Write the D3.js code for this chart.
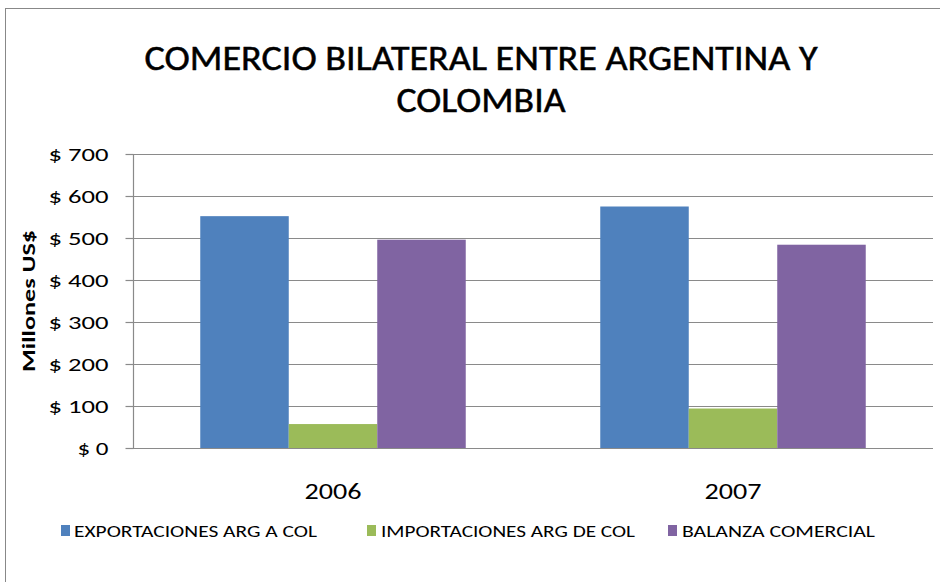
<!DOCTYPE html>
<html>
<head>
<meta charset="utf-8">
<script src="https://cdn.jsdelivr.net/npm/d3@7"></script>
<style>
  html, body { margin: 0; padding: 0; background: #fff; }
  svg { display: block; }
  text { font-family: Carlito, Lato, "Open Sans", sans-serif; fill: #000; }
</style>
</head>
<body>
<svg id="chart" width="940" height="582"></svg>
<script>
// ---- data ----
const categories = ["2006", "2007"];
const seriesNames = ["EXPORTACIONES ARG A COL", "IMPORTACIONES ARG DE COL", "BALANZA COMERCIAL"];
const exportaciones = [552, 575];
const importaciones = [57, 94];
const balanza = [496, 484];
const yTicks = [0, 100, 200, 300, 400, 500, 600, 700];
const titleLines = ["COMERCIO BILATERAL ENTRE ARGENTINA Y", "COLOMBIA"];
const yTitle = "Millones US$";

const colors = ["#4f81bd", "#9bbb59", "#8064a2"];
const seriesValues = [exportaciones, importaciones, balanza];

const svg = d3.select("#chart");
const W = 940, H = 582;

// outer chart border
svg.append("rect").attr("x", 5.5).attr("y", 8.5).attr("width", W + 10).attr("height", H + 10)
  .attr("fill", "#fff").attr("stroke", "#888").attr("stroke-width", 1);

const plot = { left: 133, right: 933, top: 154, bottom: 448 };

const x0 = d3.scaleBand().domain(categories).range([plot.left, plot.right]).paddingInner(0).paddingOuter(0);
const x1 = d3.scaleBand().domain(d3.range(seriesNames.length)).range([0, x0.bandwidth()]).paddingInner(0).paddingOuter(0.76);
const y = d3.scaleLinear().domain([0, 700]).range([plot.bottom, plot.top]);

// gridlines
svg.append("g").selectAll("line").data(yTicks).join("line")
  .attr("x1", plot.left).attr("x2", plot.right)
  .attr("y1", d => Math.round(y(d)) + 0.5).attr("y2", d => Math.round(y(d)) + 0.5)
  .attr("stroke", "#8a8a8a").attr("stroke-width", 1.2);

// bars
const groups = svg.append("g").selectAll("g").data(categories).join("g")
  .attr("transform", d => `translate(${x0(d)},0)`);
groups.selectAll("rect").data((d, i) => seriesValues.map((vals, s) => ({ s, v: vals[i] }))).join("rect")
  .attr("x", d => x1(d.s)).attr("width", x1.bandwidth())
  .attr("y", d => y(d.v)).attr("height", d => y(0) - y(d.v))
  .attr("fill", d => colors[d.s]);

// y axis
const yAxis = d3.axisLeft(y).tickValues(yTicks).tickSize(8).tickPadding(17)
  .tickFormat(d => "$ " + d);
const gy = svg.append("g").attr("transform", `translate(${plot.left + 0.5},0)`).call(yAxis);
gy.attr("font-family", null).attr("font-size", null);
gy.select(".domain").attr("stroke", "#8a8a8a").attr("stroke-width", 1.2).attr("d", `M0,${plot.top}V${plot.bottom + 0.5}`);
gy.selectAll(".tick line").attr("stroke", "#8a8a8a").attr("stroke-width", 1.2);
gy.selectAll(".tick text").attr("fill", "#000").attr("dy", "0.36em")
  .style("font-size", "18px").style("font-family", "Carlito, Lato, sans-serif")
  .attr("textLength", d => d === 0 ? 31 : 60).attr("lengthAdjust", "spacingAndGlyphs");

// x axis labels
const xAxis = d3.axisBottom(x0).tickSize(0).tickPadding(0);
const gx = svg.append("g").attr("transform", `translate(0,${plot.bottom})`).call(xAxis);
gx.attr("font-family", null).attr("font-size", null);
gx.select(".domain").remove();
gx.selectAll(".tick text").attr("fill", "#000").attr("dy", null)
  .attr("y", 51).style("font-size", "22px").style("font-family", "Carlito, Lato, sans-serif")
  .attr("textLength", 57).attr("lengthAdjust", "spacingAndGlyphs");

// y title
svg.append("text").attr("transform", `translate(35,${(plot.top + plot.bottom) / 2}) rotate(-90)`)
  .attr("text-anchor", "middle").attr("font-size", 19).attr("font-weight", "bold")
  .attr("textLength", 142).attr("lengthAdjust", "spacingAndGlyphs")
  .text(yTitle);

// title
const titleWidths = [673, 169];
svg.append("g").selectAll("text").data(titleLines).join("text")
  .attr("x", 481).attr("y", (d, i) => 70 + i * 42)
  .attr("text-anchor", "middle").attr("font-size", 35).attr("font-weight", 400)
  .attr("stroke", "#000").attr("stroke-width", 0.5)
  .attr("textLength", (d, i) => titleWidths[i]).attr("lengthAdjust", "spacingAndGlyphs")
  .text(d => d);

// legend
const legendX = [61, 367, 668];
const legendTextW = [243, 254, 193];
const leg = svg.append("g").selectAll("g").data(seriesNames).join("g")
  .attr("transform", (d, i) => `translate(${legendX[i]},525)`);
leg.append("rect").attr("width", 9).attr("height", 11).attr("fill", (d, i) => colors[i]);
leg.append("text").attr("x", (d, i) => i === 0 ? 13 : 14).attr("y", 11.5)
  .attr("font-size", 17)
  .attr("textLength", (d, i) => legendTextW[i]).attr("lengthAdjust", "spacingAndGlyphs")
  .text(d => d);
</script>
</body>
</html>
